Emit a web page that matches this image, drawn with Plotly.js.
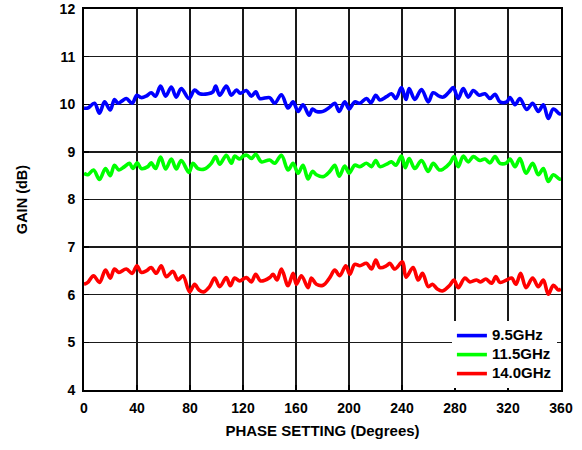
<!DOCTYPE html>
<html>
<head>
<meta charset="utf-8">
<script src="https://cdn.plot.ly/plotly-3.0.1.min.js"></script>
<style>
  html, body { margin: 0; padding: 0; background: #fff; }
  #chart { width: 582px; height: 450px; }
</style>
</head>
<body>
<div id="chart"></div>
<script>
// Gain versus phase setting, three test frequencies
const seriesNames = ['9.5GHz', '11.5GHz', '14.0GHz'];
const seriesColors = ['#0000ff', '#00ff00', '#ff0000'];

const xTickVals = [0, 40, 80, 120, 160, 200, 240, 280, 320, 360];
const yTickVals = [4, 5, 6, 7, 8, 9, 10, 11, 12];

const phase95 = [0, 2.9, 7.9, 11.7, 15.5, 19.8, 23.0, 25.6, 28.8, 31.9, 36.4, 39.9, 43.2, 46.9, 50.7, 54.0, 57.8, 61.6, 65.9, 69.6, 73.4, 79.2, 83.5, 87.3, 93.6, 97.3, 99.4, 102.4, 107.4, 111.2, 115.0, 118.0, 122.5, 126.3, 129.6, 132.6, 140.1, 143.9, 149.0, 154.0, 157.8, 161.6, 165.3, 169.9, 172.4, 175.4, 180.4, 185.5, 189.3, 192.6, 196.8, 200.1, 204.3, 208.2, 213.2, 216.5, 220.2, 223.3, 228.3, 232.1, 235.4, 239.6, 243.0, 245.4, 249.7, 254.7, 259.8, 263.5, 268.1, 271.1, 275.6, 278.7, 282.4, 286.2, 290.0, 293.8, 298.3, 302.6, 306.4, 310.2, 313.9, 319.0, 321.5, 325.3, 329.0, 334.1, 338.6, 342.9, 346.7, 350.4, 354.2, 358.8, 360];
const gain95 = [9.92, 9.92, 10.02, 9.81, 10.05, 9.88, 10.10, 10.02, 10.07, 10.12, 10.02, 10.19, 10.14, 10.17, 10.24, 10.17, 10.38, 10.17, 10.36, 10.15, 10.33, 10.12, 10.30, 10.22, 10.22, 10.26, 10.38, 10.19, 10.38, 10.19, 10.30, 10.23, 10.29, 10.17, 10.26, 10.12, 10.14, 10.02, 10.20, 9.92, 10.05, 9.85, 9.99, 9.77, 9.90, 9.85, 9.85, 9.94, 10.02, 9.85, 10.05, 9.90, 10.05, 10.02, 10.12, 10.03, 10.19, 10.09, 10.16, 10.22, 10.12, 10.35, 10.10, 10.33, 10.10, 10.31, 10.05, 10.24, 10.17, 10.15, 10.26, 10.35, 10.12, 10.33, 10.15, 10.29, 10.19, 10.22, 10.12, 10.21, 10.05, 10.05, 10.14, 9.99, 10.12, 9.89, 10.02, 9.85, 9.99, 9.70, 9.90, 9.80, 9.80];

const phase115 = [0, 2.9, 7.2, 11.7, 16.2, 19.8, 23.0, 26.3, 30.6, 34.4, 36.9, 40.2, 43.2, 48.2, 50.7, 54.0, 57.8, 61.6, 65.9, 69.6, 73.4, 79.2, 82.2, 86.0, 91.0, 96.1, 99.4, 102.4, 107.4, 111.2, 113.7, 117.5, 120.0, 123.0, 126.3, 129.6, 133.9, 140.1, 143.9, 149.0, 154.0, 157.8, 161.6, 165.3, 169.1, 172.4, 175.4, 180.4, 185.5, 189.3, 192.6, 196.8, 200.1, 204.3, 208.2, 213.2, 217.0, 220.2, 223.3, 229.6, 232.1, 235.4, 239.6, 242.5, 245.4, 249.7, 254.7, 259.8, 263.5, 268.1, 271.1, 276.1, 279.4, 282.4, 286.2, 290.0, 293.8, 298.8, 302.6, 306.4, 310.2, 313.9, 319.0, 321.5, 325.3, 329.0, 333.6, 338.6, 342.9, 346.7, 350.4, 354.2, 358.8, 360];
const gain115 = [8.55, 8.52, 8.62, 8.42, 8.65, 8.50, 8.72, 8.62, 8.69, 8.76, 8.65, 8.77, 8.65, 8.69, 8.77, 8.65, 8.89, 8.64, 8.85, 8.64, 8.82, 8.57, 8.76, 8.65, 8.64, 8.76, 8.90, 8.74, 8.93, 8.76, 8.91, 8.85, 8.91, 8.93, 8.86, 8.95, 8.79, 8.83, 8.76, 8.93, 8.62, 8.76, 8.55, 8.72, 8.43, 8.59, 8.52, 8.48, 8.59, 8.72, 8.49, 8.70, 8.55, 8.72, 8.69, 8.76, 8.69, 8.82, 8.69, 8.76, 8.79, 8.72, 8.91, 8.67, 8.86, 8.65, 8.82, 8.59, 8.76, 8.62, 8.64, 8.76, 8.90, 8.69, 8.91, 8.79, 8.90, 8.82, 8.85, 8.77, 8.90, 8.76, 8.77, 8.85, 8.69, 8.86, 8.55, 8.76, 8.52, 8.65, 8.38, 8.52, 8.43, 8.43];

const phase140 = [0, 2.9, 7.2, 11.7, 16.2, 19.8, 23.0, 26.3, 31.9, 36.4, 39.9, 43.2, 46.9, 50.7, 54.5, 58.3, 62.1, 67.1, 70.9, 74.7, 79.7, 83.5, 86.8, 90.3, 94.8, 98.6, 102.4, 107.4, 110.4, 113.7, 117.5, 122.5, 126.3, 129.6, 133.2, 140.1, 142.7, 145.7, 149.0, 154.0, 157.8, 160.3, 164.1, 169.1, 171.6, 175.4, 180.4, 185.5, 189.3, 193.0, 197.6, 200.6, 204.3, 208.2, 213.2, 217.0, 220.2, 223.3, 228.3, 230.8, 234.6, 240.4, 243.0, 248.4, 252.2, 255.5, 259.8, 263.0, 266.6, 270.5, 276.1, 279.2, 282.4, 287.5, 291.2, 296.3, 299.3, 303.3, 307.6, 310.9, 313.9, 319.0, 322.8, 326.0, 329.5, 333.6, 338.6, 342.9, 346.7, 350.4, 354.2, 358.0, 360];
const gain140 = [6.22, 6.26, 6.40, 6.26, 6.52, 6.35, 6.54, 6.47, 6.54, 6.45, 6.61, 6.47, 6.50, 6.57, 6.45, 6.61, 6.38, 6.49, 6.31, 6.40, 6.06, 6.22, 6.10, 6.06, 6.17, 6.35, 6.17, 6.36, 6.19, 6.35, 6.29, 6.36, 6.27, 6.43, 6.29, 6.36, 6.43, 6.31, 6.54, 6.19, 6.45, 6.22, 6.40, 6.15, 6.35, 6.22, 6.20, 6.36, 6.52, 6.40, 6.61, 6.43, 6.64, 6.61, 6.66, 6.54, 6.73, 6.57, 6.61, 6.66, 6.54, 6.69, 6.37, 6.57, 6.31, 6.45, 6.17, 6.22, 6.12, 6.08, 6.20, 6.31, 6.15, 6.35, 6.27, 6.31, 6.27, 6.33, 6.24, 6.38, 6.26, 6.31, 6.35, 6.22, 6.45, 6.15, 6.35, 6.17, 6.31, 6.01, 6.20, 6.10, 6.12];

const xs = [phase95, phase115, phase140];
const ys = [gain95, gain115, gain140];

const FONT = 'Liberation Sans, Arial, Helvetica, sans-serif';
const bold = s => '<b>' + s + '</b>';
// legend entries: larger text on a tighter row pitch
const legendLabel = s => '<span style="font-size:15px"><b>' + s + '</b></span>';

const traces = seriesNames.map((name, i) => ({
  type: 'scatter',
  mode: 'lines',
  name: legendLabel(name),
  x: xs[i],
  y: ys[i],
  line: { color: seriesColors[i], width: 3.6, shape: 'spline', smoothing: 1 },
  hoverinfo: 'x+y'
}));

const axisCommon = {
  showline: true,
  mirror: true,
  linecolor: '#000',
  linewidth: 2,
  showgrid: true,
  gridcolor: '#1a1a1a',
  gridwidth: 1.3,
  zeroline: false,
  ticks: 'inside',
  ticklen: 5,
  tickwidth: 1.3,
  tickcolor: '#000',
  tickfont: { family: FONT, size: 14, color: '#000' },
  fixedrange: true
};

const layout = {
  width: 582,
  height: 450,
  margin: { l: 84, r: 21, t: 9, b: 60 },
  paper_bgcolor: '#fff',
  plot_bgcolor: '#fff',
  showlegend: true,
  xaxis: Object.assign({}, axisCommon, {
    range: [0, 360],
    tickmode: 'array',
    tickvals: xTickVals,
    ticktext: xTickVals.map(bold),
    ticklabelstandoff: 4,
    title: { text: bold('PHASE SETTING (Degrees)'), font: { family: FONT, size: 15, color: '#000' }, standoff: 11 }
  }),
  yaxis: Object.assign({}, axisCommon, {
    range: [4, 12],
    tickmode: 'array',
    tickvals: yTickVals,
    ticktext: yTickVals.map(bold),
    ticklabelstandoff: 4,
    title: { text: bold('GAIN (dB)'), font: { family: FONT, size: 14.5, color: '#000' }, standoff: 29 }
  }),
  legend: {
    x: 0.7713, xanchor: 'left',
    y: 0.005, yanchor: 'bottom',
    bgcolor: '#fff',
    borderwidth: 0,
    font: { family: FONT, size: 12, color: '#000' },
    tracegroupgap: 0
  }
};

Plotly.newPlot('chart', traces, layout, { displayModeBar: false, staticPlot: true });
</script>
</body>
</html>
